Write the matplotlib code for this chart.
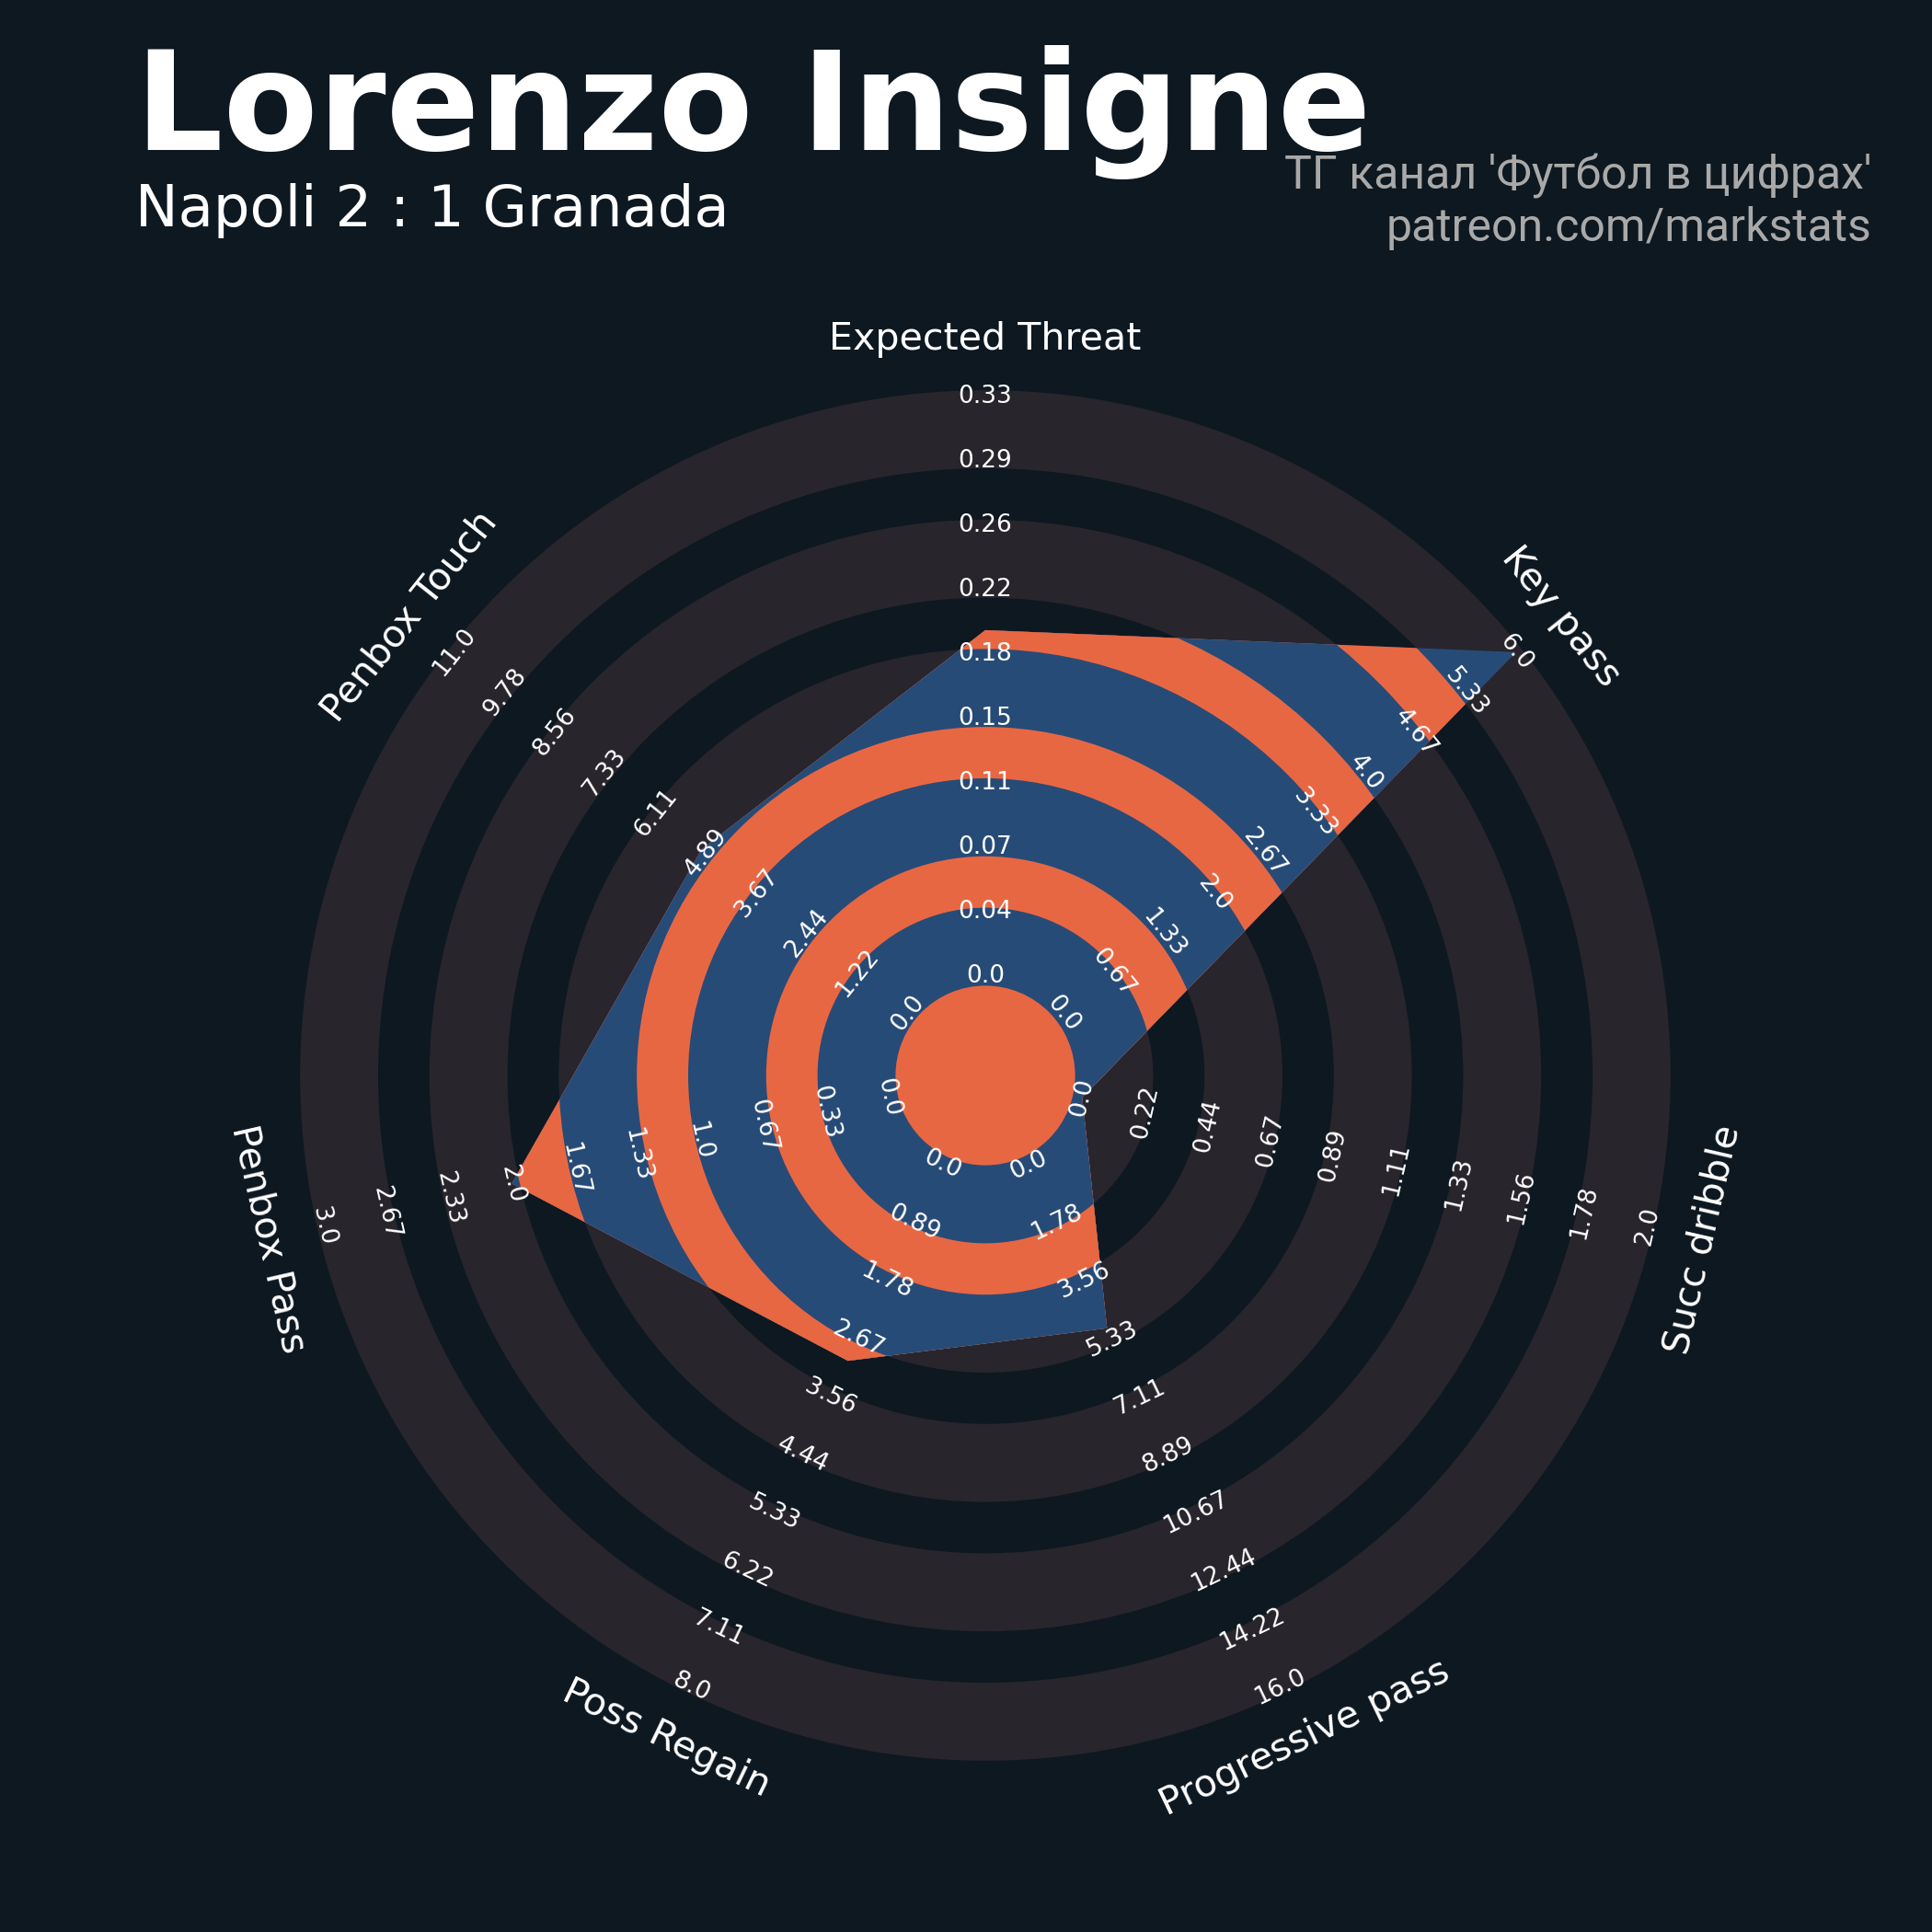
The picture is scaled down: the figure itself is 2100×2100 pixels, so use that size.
import numpy as np
import matplotlib.pyplot as plt
from matplotlib.patches import Circle, Polygon

# radar data
params = ['Expected Threat', 'Key pass', 'Succ dribble', 'Progressive pass',
          'Poss Regain', 'Penbox Pass', 'Penbox Touch']
low = [0, 0, 0, 0, 0, 0, 0]
high = [0.33, 6, 2, 16, 8, 3, 11]
values = [0.197, 6, 0, 5, 3, 2, 5]

title = 'Lorenzo Insigne'
subtitle = 'Napoli 2 : 1 Granada'
credit = ["ТГ канал 'Футбол в цифрах'", 'patreon.com/markstats']

bg = '#0E1821'
ring_light = '#28252C'
blue = '#274B77'
orange = '#E86743'

W = 2100
fig = plt.figure(figsize=(10.5, 10.5), dpi=200, facecolor=bg)
ax = fig.add_axes([0, 0, 1, 1])
ax.set_xlim(0, W)
ax.set_ylim(0, W)
ax.set_aspect('equal')
ax.axis('off')

cx, cy = 1071, W - 1169
r_in, r_out = 108, 738
edges = [744.8, 660.0, 604.2, 519.4, 463.6, 378.8, 323.0, 238.2, 182.4, 97.6]

n = len(params)
ang = np.deg2rad(90 - np.arange(n) * 360 / n)


def radius(v, lo, hi):
    return r_in + (v - lo) / (hi - lo) * (r_out - r_in)


rr = np.array([radius(v, lo, hi) for v, lo, hi in zip(values, low, high)])
pts = np.column_stack([cx + rr * np.cos(ang), cy + rr * np.sin(ang)])
poly = Polygon(pts, closed=True, fc='none', ec='none')
ax.add_patch(poly)

for i, e in enumerate(edges):
    ax.add_patch(Circle((cx, cy), e, fc=ring_light if i % 2 == 0 else bg, ec='none', zorder=1))
    c = Circle((cx, cy), e, fc=blue if i % 2 == 0 else orange, ec='none', zorder=2)
    ax.add_patch(c)
    c.set_clip_path(poly)


def rot_of(a):
    d = (np.rad2deg(a) + 180) % 360 - 180
    return d - 90 if d >= 0 else d + 90


# range labels along every axis
for a, lo, hi in zip(ang, low, high):
    rot = rot_of(a)
    for v in np.linspace(lo, hi, 10):
        r = radius(v, lo, hi)
        ax.text(cx + r * np.cos(a), cy + r * np.sin(a), str(round(v, 2)),
                color='white', fontsize=9.5, ha='center', va='center',
                rotation=rot, rotation_mode='anchor', zorder=3)

# parameter names
for a, p in zip(ang, params):
    ax.text(cx + 800 * np.cos(a), cy + 800 * np.sin(a), p, color='white',
            fontsize=14.8, ha='center', va='center', rotation=rot_of(a),
            rotation_mode='anchor', zorder=3)

fig.text(147 / W, 1 - 163 / W, title, color='white', fontsize=54,
         fontweight='bold', ha='left', va='baseline')
fig.text(147 / W, 1 - 246 / W, subtitle, color='white', fontsize=22.5,
         ha='left', va='baseline')
fig.text(2035 / W, 1 - 205 / W, credit[0], color='#A9A9A9', fontsize=18,
         family=['Roboto', 'DejaVu Sans'], ha='right', va='baseline')
fig.text(2035 / W, 1 - 262 / W, credit[1], color='#A9A9A9', fontsize=18,
         family=['Roboto', 'DejaVu Sans'], ha='right', va='baseline')

fig.savefig('out.png', dpi=200, facecolor=bg)
